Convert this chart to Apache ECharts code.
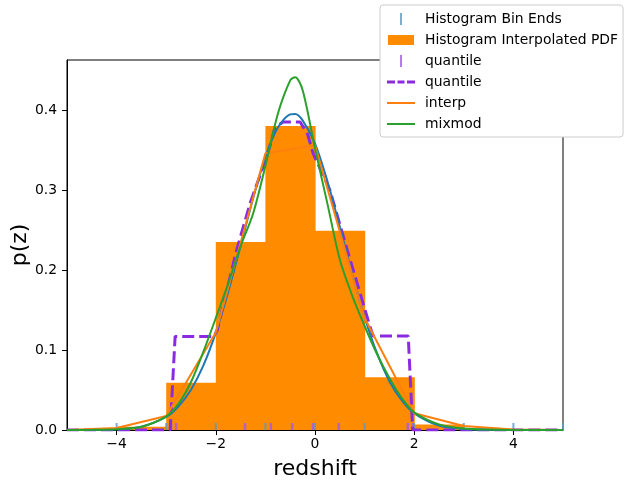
<!DOCTYPE html>
<html>
<head>
<meta charset="utf-8">
<script src="https://cdn.jsdelivr.net/npm/echarts@6/dist/echarts.min.js"></script>
<style>
html, body { margin: 0; padding: 0; background: #fff; }
#chart { width: 630px; height: 489px; }
</style>
</head>
<body>
<div id="chart"></div>
<script>
// histogram
var binLo = [-4, -3, -2, -1, 0, 1, 2, 3, 4];
var binHi = [-3, -2, -1, 0, 1, 2, 3, 4, 5];
var binHeights = [0.004, 0.059, 0.235, 0.380, 0.249, 0.066, 0.007, 0, 0];
var binEnds = [-4, -3, -2, -1, 0, 1, 2, 3, 4, 5];

// quantile markers + quantile pdf
var quantileMarks = [-2.9, -2.8, -1.41, -0.89, -0.46, -0.04, 0.48, 1.87, 1.97];
var quantX = [-5, -2.92, -2.82, -2.04, -1.97, -1.58, -1.3, -0.97, -0.81, -0.65, -0.3, -0.15, -0.04, 0.3, 0.65, 1.11, 1.17, 1.88, 1.97, 5];
var quantY = [0, 0, 0.117, 0.117, 0.125, 0.225, 0.285, 0.342, 0.377, 0.385, 0.385, 0.37, 0.346, 0.30, 0.225, 0.129, 0.1175, 0.1175, 0, 0];

// true pdf and mixmod on a common grid
var gridX = [-5, -4.5, -4, -3.5, -3, -2.75, -2.5, -2.25, -2, -1.75, -1.5, -1.25, -1, -0.75, -0.5, -0.4, -0.25, 0, 0.25, 0.5, 0.75, 1, 1.25, 1.5, 1.75, 2, 2.5, 3, 3.5, 4, 5];
var trueY = [0, 0.0001, 0.0008, 0.0041, 0.0163, 0.0296, 0.0503, 0.0807, 0.1217, 0.1726, 0.230, 0.289, 0.341, 0.378, 0.3945, 0.395, 0.387, 0.358, 0.311, 0.254, 0.195, 0.141, 0.096, 0.061, 0.0369, 0.0208, 0.0055, 0.0012, 0.0002, 0, 0];
var mixY = [0, 0.0002, 0.001, 0.004, 0.017, 0.033, 0.06, 0.098, 0.14, 0.183, 0.23, 0.27, 0.33, 0.395, 0.437, 0.441, 0.425, 0.352, 0.283, 0.213, 0.168, 0.13, 0.095, 0.065, 0.04, 0.022, 0.007, 0.002, 0.0005, 0.0001, 0];

// interp nodes
var interpX = [-5, -4, -3, -2, -1, 0, 1, 2, 3, 4, 5];
var interpY = [0, 0.0025, 0.0175, 0.122, 0.346, 0.356, 0.14, 0.021, 0.005, 0.0005, 0];

var xTicks = [-4, -2, 0, 2, 4];
var yTicks = [0, 0.1, 0.2, 0.3, 0.4];

function pairs(xs, ys) {
  return xs.map(function (x, i) { return [x, ys[i]]; });
}

var barData = binLo.map(function (lo, i) { return [lo, binHi[i], binHeights[i]]; });

function renderBar(params, api) {
  var p0 = api.coord([api.value(0), api.value(2)]);
  var p1 = api.coord([api.value(1), 0]);
  return {
    type: 'rect',
    shape: { x: p0[0], y: p0[1], width: p1[0] - p0[0] + 0.6, height: p1[1] - p0[1] },
    style: { fill: '#ff8c00' }
  };
}

var font = 'DejaVu Sans';
var tickIcon = 'path://M0,0M28,14M13,1h2v12h-2z';
var lineIcon = 'path://M0,0M28,14M0,6h28v2h-28z';

myChart = echarts.init(document.getElementById('chart'));
option = {
  animation: false,
  grid: {
    left: 67, right: 67, top: 60, bottom: 59,
    outerBoundsMode: 'none',
    containLabel: false,
    show: true, borderColor: '#000', borderWidth: 1
  },
  legend: {
    orient: 'vertical',
    align: 'left',
    left: 380,
    top: 5,
    padding: [7, 5, 6, 7],
    itemWidth: 28,
    itemHeight: 14,
    itemGap: 7,
    backgroundColor: '#fff',
    borderColor: '#ccc',
    borderWidth: 1,
    borderRadius: 3,
    textStyle: { fontFamily: font, fontSize: 13.9, color: '#000', padding: [0, 0, 0, 5] },
    data: [
      { name: 'Histogram Bin Ends', icon: tickIcon, itemStyle: { color: '#5799c7', borderWidth: 0 } },
      { name: 'Histogram Interpolated PDF', icon: 'path://M0,0M28,14M1,2h26v10h-26z', itemStyle: { color: '#ff8c00', borderWidth: 0 } },
      { name: 'quantile', icon: tickIcon, itemStyle: { color: '#a35ae8', borderWidth: 0 } },
      { name: 'quantile ', icon: 'path://M0,0M28,14M0,5.6h8v2.8h-8zM10.5,5.6h7v2.8h-7zM20,5.6h8v2.8h-8z', itemStyle: { color: '#8a2be2', borderWidth: 0 } },
      { name: 'interp', icon: lineIcon, itemStyle: { color: '#ff7f0e', borderWidth: 0 } },
      { name: 'mixmod', icon: lineIcon, itemStyle: { color: '#2ca02c', borderWidth: 0 } }
    ]
  },
  xAxis: {
    type: 'value',
    min: -5,
    max: 5,
    name: 'redshift',
    nameLocation: 'middle',
    nameGap: 28,
    nameMoveOverlap: false,
    nameTextStyle: { fontFamily: font, fontSize: 22, color: '#000' },
    splitLine: { show: false },
    axisLine: { onZero: false, lineStyle: { color: '#000', width: 1 } },
    axisTick: { customValues: xTicks, length: 5, lineStyle: { color: '#000' } },
    axisLabel: {
      customValues: xTicks,
      margin: 7,
      fontFamily: font,
      fontSize: 13.9,
      color: '#000',
      formatter: function (v) { return v < 0 ? '\u2212' + Math.abs(v) : String(v); }
    }
  },
  yAxis: {
    type: 'value',
    min: 0,
    max: 0.4625,
    name: 'p(z)',
    nameLocation: 'middle',
    nameGap: 36,
    nameMoveOverlap: false,
    nameRotate: 90,
    nameTextStyle: { fontFamily: font, fontSize: 22, color: '#000' },
    splitLine: { show: false },
    axisLine: { show: true, onZero: false, lineStyle: { color: '#000', width: 1 } },
    axisTick: { show: true, customValues: yTicks, length: 5, lineStyle: { color: '#000' } },
    axisLabel: {
      customValues: yTicks,
      margin: 10,
      fontFamily: font,
      fontSize: 13.9,
      color: '#000',
      formatter: function (v) { return v.toFixed(1); }
    }
  },
  series: [
    {
      name: 'Histogram Bin Ends',
      type: 'scatter',
      data: binEnds.map(function (x) { return [x, 0]; }),
      symbol: 'rect',
      symbolSize: [2, 7],
      symbolOffset: [0, -3.5],
      itemStyle: { color: '#5799c7' },
      silent: true
    },
    {
      name: 'Histogram Interpolated PDF',
      type: 'custom',
      renderItem: renderBar,
      encode: { x: [0, 1], y: 2 },
      data: barData,
      itemStyle: { color: '#ff8c00' },
      silent: true
    },
    {
      name: 'quantile',
      type: 'scatter',
      data: quantileMarks.map(function (x) { return [x, 0]; }),
      symbol: 'rect',
      symbolSize: [2.5, 7],
      symbolOffset: [0, -3.5],
      itemStyle: { color: '#a35ae8' },
      silent: true
    },
    {
      name: 'quantile ',
      type: 'line',
      data: pairs(quantX, quantY),
      showSymbol: false,
      color: '#8a2be2',
      lineStyle: { color: '#8a2be2', width: 3, type: [12, 5] },
      silent: true
    },
    {
      name: 'true',
      type: 'line',
      data: pairs(gridX, trueY),
      showSymbol: false,
      smooth: 0.3,
      lineStyle: { color: '#1f77b4', width: 2 },
      silent: true
    },
    {
      name: 'interp',
      type: 'line',
      data: pairs(interpX, interpY),
      showSymbol: false,
      color: '#ff7f0e',
      lineStyle: { color: '#ff7f0e', width: 2 },
      silent: true
    },
    {
      name: 'mixmod',
      type: 'line',
      data: pairs(gridX, mixY),
      showSymbol: false,
      smooth: 0.3,
      color: '#2ca02c',
      lineStyle: { color: '#2ca02c', width: 2 },
      silent: true
    }
  ]
};
myChart.setOption(option);
</script>
</body>
</html>
